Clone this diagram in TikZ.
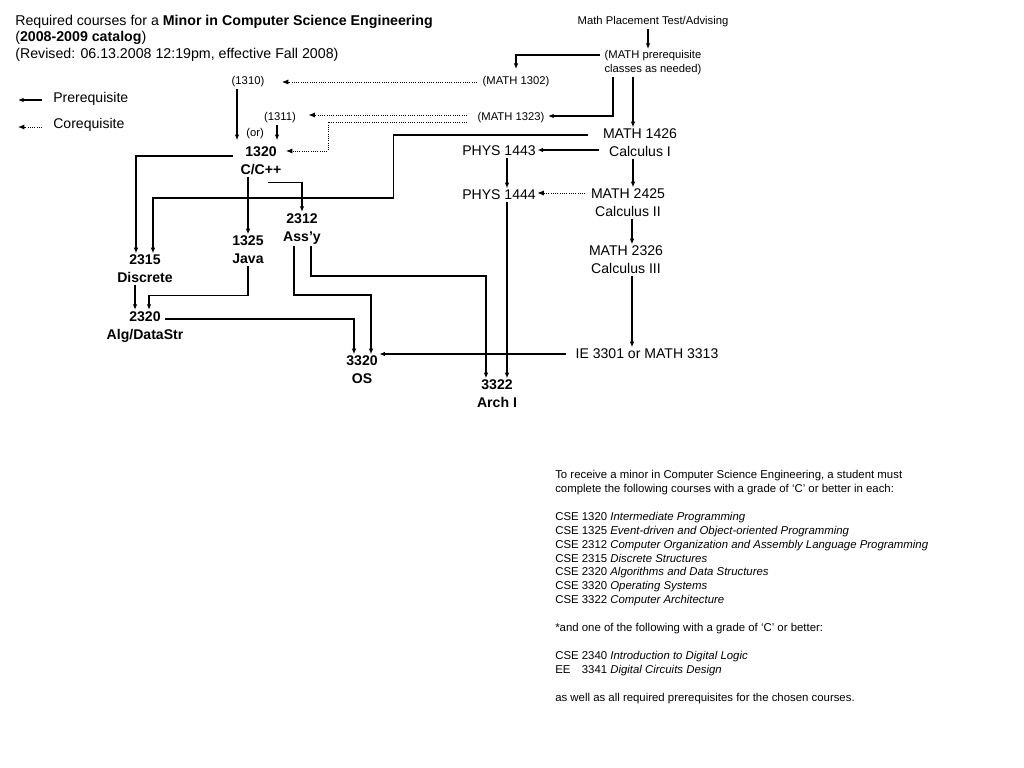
\documentclass[tikz,border=0pt]{standalone}
\usepackage{fontspec}
\setmainfont{Liberation Sans}
\usetikzlibrary{arrows.meta, calc}
\tikzset{
  course/.style={align=center, inner sep=1pt,
                 font=\bfseries\fontsize{10}{12.8}\selectfont},
  plain/.style={align=center, inner sep=1pt,
                font=\fontsize{10}{12.8}\selectfont},
  small/.style={align=center, inner sep=1pt,
                font=\fontsize{8}{10}\selectfont},
  arrow/.style={-{Latex[length=4pt,width=3.2pt]}, line width=0.8pt},
  coarrow/.style={-{Latex[length=4.5pt,width=3.6pt]}, densely dotted, line width=0.6pt}
}

\begin{document}
\begin{tikzpicture}[x=0.025cm, y=-0.025cm]
\useasboundingbox (0,0) rectangle (1024,768);

% Title + legend
\node[anchor=north west, align=left, inner sep=0pt,
      font=\fontsize{10.1}{12}\selectfont] (title) at (15,14.5)
  {Required courses for a \textbf{Minor in Computer Science Engineering}\\
   (\textbf{2008-2009 catalog})\\
   (Revised: 06.13.2008 12:19pm, effective Fall 2008)};
\node[anchor=west, font=\fontsize{10}{12}\selectfont, inner sep=0pt] (lgpre) at (53,99) {Prerequisite};
\node[anchor=west, font=\fontsize{10}{12}\selectfont, inner sep=0pt] (lgco) at (53,125) {Corequisite};
\draw[arrow] ($(lgpre.west)+(-11,1)$) -- ++(-24,0);
\draw[coarrow] ($(lgco.west)+(-11,2)$) -- ++(-24,0);

% Math side
\node[small] (mpt) at (653,22) {Math Placement Test/Advising};
\node[small] (mreq) at (653,63) {(MATH prerequisite\\classes as needed)};
\node[small] (m1302) at (516,82) {(MATH 1302)};
\node[small] (m1323) at (511,118) {(MATH 1323)};
\node[plain] (m1426) at (640,143) {MATH 1426\\Calculus I};
\node[plain] (p1443) at (499,151) {PHYS 1443};
\node[plain] (p1444) at (499,195) {PHYS 1444};
\node[plain] (m2425) at (628,203) {MATH 2425\\Calculus II};
\node[plain] (m2326) at (626,260) {MATH 2326\\Calculus III};
\node[plain] (ie) at (647,354) {IE 3301 or MATH 3313};

% CSE courses
\node[small] (c1310) at (248,82) {(1310)};
\node[small] (c1311) at (280,118) {(1311)};
\node[small] (cor) at (255,134) {(or)};
\node[course] (c1320) at (261,161) {1320\\C/C++};
\node[course] (c2312) at (302,229) {2312\\Ass'y};
\node[course] (c1325) at (248,250) {1325\\Java};
\node[course] (c2315) at (145,269) {2315\\Discrete};
\node[course] (c2320) at (145,327) {2320\\Alg/DataStr};
\node[course] (c3320) at (362,370) {3320\\OS};
\node[course] (c3322) at (497,394) {3322\\Arch I};

% Note
\node[anchor=north west, align=left, inner sep=0pt,
      font=\fontsize{8.1}{9.9}\selectfont] (note) at (555,470)
  {To receive a minor in Computer Science Engineering, a student must\\
   complete the following courses with a grade of `C' or better in each:\\[9.9pt]
   CSE 1320 \textit{Intermediate Programming}\\
   CSE 1325 \textit{Event-driven and Object-oriented Programming}\\
   CSE 2312 \textit{Computer Organization and Assembly Language Programming}\\
   CSE 2315 \textit{Discrete Structures}\\
   CSE 2320 \textit{Algorithms and Data Structures}\\
   CSE 3320 \textit{Operating Systems}\\
   CSE 3322 \textit{Computer Architecture}\\[9.9pt]
   *and one of the following with a grade of `C' or better:\\[9.9pt]
   CSE 2340 \textit{Introduction to Digital Logic}\\
   \rlap{EE}\phantom{CSE }3341 \textit{Digital Circuits Design}\\[9.9pt]
   as well as all required prerequisites for the chosen courses.};

% --- Connections ---
% placement -> math classes
\draw[arrow] ($(mpt.south)+(-5,0)$) -- ($(mreq.north)+(-5,0)$);
\draw[arrow] ($(mreq.west)+(-3,-8)$) -| ($(m1302.north)+(0,-6)$);
\draw[arrow] ($(mreq.south)+(-40,0)$) |- ($(m1323.east)+(2,-2)$);
\draw[arrow] ($(mreq.south)+(-20,0)$) -- ($(m1426.north)+(-7,0)$);

% corequisites
\draw[coarrow] ($(m1302.west)+(-4,0)$) -- ($(c1310.east)+(16,0)$);
\draw[coarrow] ($(m1323.west)+(-9,-3)$) -- ($(c1311.east)+(11,-3)$);
\draw[coarrow] ($(m1323.west)+(-9,4)$) -- ++(-139,0) |- ($(c1320.east)+(3,-10)$);
\draw[coarrow] ($(m2425.west |- p1444.east)+(-4,-2)$) -- ($(p1444.east)+(0,-2)$);

% math chain
\draw[arrow] ($(m1426.west |- p1443.east)+(-2,-1)$) -- ($(p1443.east)+(0,-1)$);
\draw[arrow] ($(p1443.south)+(8,0)$) -- ($(p1444.north)+(8,0)$);
\draw[arrow] ($(m1426.south)+(-7,0)$) -- ($(m2425.north)+(5,0)$);
\draw[arrow] ($(m2425.south)+(4,0)$) -- ($(m2326.north)+(6,0)$);
\draw[arrow] ($(m2326.south)+(6,0)$) -- ($(ie.north)+(-15,0)$);
\draw[arrow] ($(ie.west)+(-8,0)$) -- (c3320.east |- ie.west);
\draw[arrow] ($(p1444.south)+(8,0)$) -- ($(c3322.north)+(10,0)$);

% MATH 1426 -> 2315
\draw[arrow] ($(m1426.west)+(-13,-8)$) -- ++(-195,0) -- ++(0,63) -| ($(c2315.north)+(8,0)$);

% CSE chain
\draw[arrow] ($(c1310.south)+(-11,0)$) -- ($(c1320.north)+(-24,-5)$);
\draw[arrow] ($(c1311.south)+(-3,0)$) -- ($(c1320.north)+(16,-5)$);
\draw[arrow] ($(c1320.west)+(-6,-5)$) -| ($(c2315.north)+(-9,0)$);
\draw[arrow] ($(c1320.south)+(-13,0)$) -- (c1325.north);
\draw[arrow] ($(c1320.south)+(7,6)$) -| (c2312.north);
\draw[arrow] ($(c2315.south)+(-10,0)$) -- ($(c2320.north)+(-10,0)$);
\draw[arrow] (c1325.south) -- ++(0,30) -| ($(c2320.north)+(4,0)$);
\draw[arrow] ($(c2320.center)+(20,-8)$) -| ($(c3320.north)+(-8,0)$);
\draw[arrow] ($(c2312.south)+(-8,0)$) -- ++(0,49) -| ($(c3320.north)+(9,0)$);
\draw[arrow] ($(c2312.south)+(9,0)$) -- ++(0,30) -| ($(c3322.north)+(-11,0)$);

\end{tikzpicture}
\end{document}
